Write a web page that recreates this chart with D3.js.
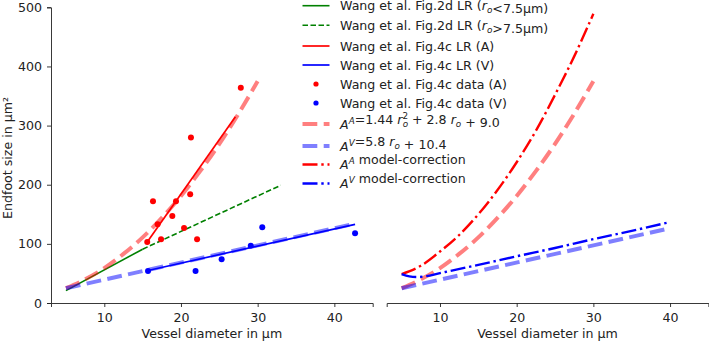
<!DOCTYPE html>
<html>
<head>
<meta charset="utf-8">
<script src="https://cdn.jsdelivr.net/npm/d3@7"></script>
<style>
  body { margin: 0; background: #fff; }
  text { font-family: "DejaVu Sans", sans-serif; }
</style>
</head>
<body>
<svg id="chart" width="709" height="342"></svg>
<script>
// values
const xTicks = [10, 20, 30, 40]
const yTicks = [0, 100, 200, 300, 400, 500]

const dataAx = [15.6, 16.35, 16.95, 17.4, 18.87, 19.35, 20.4, 21.2, 21.3, 22.1, 27.8]
const dataAy = [103, 172, 133, 108, 147, 172, 127, 184, 280, 108, 364]
const dataVx = [15.7, 21.9, 25.3, 29.1, 30.6, 42.7]
const dataVy = [54, 54, 74, 97, 128, 118]

const fig2dSmallD = [5, 15]
const fig2dSmallA = [21, 91]
const fig2dLargeD = [15, 33]
const fig2dLargeA = [91, 199]

const fig4cAD = [15.6, 27.1]
const fig4cAA = [103, 315]
const fig4cVD = [15.7, 42.7]
const fig4cVA = [55, 133]

const fitAD = [5, 7.5, 10, 12.5, 15, 17.5, 20, 22.5, 25, 27.5, 30]
const fitAA = [25, 40, 59, 83, 111, 144, 181, 223, 269, 320, 375]
const fitVLeftD = [5, 42.7]
const fitVLeftA = [24.9, 134.2]
const fitVRightD = [5, 40]
const fitVRightA = [24.9, 126.4]

const modelAD = [5, 7.5, 10, 12.5, 15, 17.5, 20, 22.5, 25, 27.5, 30]
const modelAA = [49, 63, 87, 115, 150, 191, 238, 291, 352, 417, 489]
const modelVD = [5, 6, 7, 8, 10, 15, 20, 25, 30, 35, 40]
const modelVA = [49, 45, 44, 45, 50.5, 64.5, 79, 93, 108, 122, 137]

const FONT = "DejaVu Sans"
const FS = 12.6

const svg = d3.select("#chart")
const y = d3.scaleLinear().domain([0, 500]).range([303, 7.3])
const xLeft = d3.scaleLinear().domain([3.05, 45]).range([51, 372.7])
const xRight = d3.scaleLinear().domain([3.05, 45]).range([386.7, 708.4])

const zip = (xs, ys) => xs.map((v, i) => [v, ys[i]])

const styles = {
  green: { stroke: "green", width: 1.6, dash: null, op: 1 },
  greenDash: { stroke: "green", width: 1.6, dash: "5.5,2.5", op: 1 },
  red: { stroke: "#ff0000", width: 1.7, dash: null, op: 1 },
  blue: { stroke: "#0000ff", width: 1.7, dash: null, op: 1 },
  fitA: { stroke: "#ff0000", width: 4, dash: "14.8,6.4", op: 0.5 },
  fitV: { stroke: "#0000ff", width: 4, dash: "14.8,6.4", op: 0.5 },
  modelA: { stroke: "#ff0000", width: 2.4, dash: "15,3.8,2.4,3.8", op: 1 },
  modelV: { stroke: "#0000ff", width: 2.4, dash: "15,3.8,2.4,3.8", op: 1 }
}

function drawLine(g, x, pts, st, curve) {
  let line = d3.line().x(d => x(d[0])).y(d => y(d[1])).curve(curve || d3.curveLinear)
  g.append("path")
    .attr("d", line(pts))
    .attr("fill", "none")
    .attr("stroke", st.stroke)
    .attr("stroke-width", st.width)
    .attr("stroke-opacity", st.op)
    .attr("stroke-dasharray", st.dash)
}

function styleAxis(a) {
  a.attr("font-family", FONT).attr("font-size", FS)
  a.selectAll("text").attr("fill", "#222")
  a.select(".domain").attr("stroke", "#222").attr("stroke-width", 0.9)
  a.selectAll(".tick line").attr("stroke", "#222").attr("stroke-width", 0.9)
}

function drawAxis(x, showY) {
  let ax = svg.append("g").attr("transform", "translate(0,303)")
    .call(d3.axisBottom(x).tickValues(xTicks).tickSize(4).tickPadding(6))
  styleAxis(ax)
  if (showY) {
    let ay = svg.append("g").attr("transform", "translate(" + x.range()[0] + ",0)")
      .call(d3.axisLeft(y).tickValues(yTicks).tickSize(4).tickPadding(5))
    styleAxis(ay)
  }
  svg.append("text")
    .attr("x", (x.range()[0] + x.range()[1]) / 2)
    .attr("y", 338)
    .attr("text-anchor", "middle")
    .attr("font-family", FONT)
    .attr("font-size", FS)
    .attr("fill", "#222")
    .text("Vessel diameter in µm")
}

drawAxis(xLeft, true)
drawAxis(xRight, false)

svg.append("text")
  .attr("transform", "translate(11.5,158) rotate(-90)")
  .attr("text-anchor", "middle")
  .attr("font-family", FONT)
  .attr("font-size", FS)
  .attr("fill", "#222")
  .text("Endfoot size in µm²")

// left panel
let gl = svg.append("g")
drawLine(gl, xLeft, zip(fig2dSmallD, fig2dSmallA), styles.green)
drawLine(gl, xLeft, zip(fig2dLargeD, fig2dLargeA), styles.greenDash)
drawLine(gl, xLeft, zip(fig4cAD, fig4cAA), styles.red)
drawLine(gl, xLeft, zip(fig4cVD, fig4cVA), styles.blue)
gl.selectAll("circle.a").data(zip(dataAx, dataAy)).join("circle")
  .attr("cx", d => xLeft(d[0])).attr("cy", d => y(d[1])).attr("r", 3).attr("fill", "#ff0000")
gl.selectAll("circle.v").data(zip(dataVx, dataVy)).enter().append("circle")
  .attr("cx", d => xLeft(d[0])).attr("cy", d => y(d[1])).attr("r", 3).attr("fill", "#0000ff")
drawLine(gl, xLeft, zip(fitAD, fitAA), styles.fitA, d3.curveMonotoneX)
drawLine(gl, xLeft, zip(fitVLeftD, fitVLeftA), styles.fitV)

// right panel
let gr = svg.append("g")
drawLine(gr, xRight, zip(fitAD, fitAA), styles.fitA, d3.curveMonotoneX)
drawLine(gr, xRight, zip(fitVRightD, fitVRightA), styles.fitV)
drawLine(gr, xRight, zip(modelAD, modelAA), styles.modelA, d3.curveMonotoneX)
drawLine(gr, xRight, zip(modelVD, modelVA), styles.modelV, d3.curveMonotoneX)

// legend
const legendRows = [
  { key: "green", y: 5.7 },
  { key: "greenDash", y: 25.3 },
  { key: "red", y: 46 },
  { key: "blue", y: 65 },
  { key: "dotA", y: 84 },
  { key: "dotV", y: 103 },
  { key: "fitA", y: 124 },
  { key: "fitV", y: 146 },
  { key: "modelA", y: 164.5 },
  { key: "modelV", y: 183.5 }
]
let lg = svg.append("g")
legendRows.forEach(r => {
  if (r.key === "dotA" || r.key === "dotV") {
    lg.append("circle").attr("cx", 316).attr("cy", r.y).attr("r", 2.6)
      .attr("fill", r.key === "dotA" ? "#ff0000" : "#0000ff")
  } else {
    let st = styles[r.key]
    lg.append("line").attr("x1", 302.5).attr("x2", 329.5).attr("y1", r.y).attr("y2", r.y)
      .attr("stroke", st.stroke).attr("stroke-width", st.width)
      .attr("stroke-opacity", st.op).attr("stroke-dasharray", st.dash)
  }
})

function legendText(yc) {
  return lg.append("text").attr("x", 340).attr("y", yc + 4.5)
    .attr("font-family", FONT).attr("font-size", FS).attr("fill", "#222")
}
function it(t, s) { t.append("tspan").attr("font-style", "italic").text(s) }
function sub(t, s) { t.append("tspan").attr("font-style", "italic").attr("font-size", 8.8).attr("dy", 3).text(s); t.append("tspan").attr("dy", -3).text("") }
function sup(t, s) { t.append("tspan").attr("font-style", "italic").attr("font-size", 8.8).attr("dy", -5).text(s); t.append("tspan").attr("dy", 5).text("") }

let t = legendText(5.7)
t.append("tspan").text("Wang et al. Fig.2d LR (")
it(t, "r"); sub(t, "o"); t.append("tspan").text("<7.5µm)")
t = legendText(25.3)
t.append("tspan").text("Wang et al. Fig.2d LR (")
it(t, "r"); sub(t, "o"); t.append("tspan").text(">7.5µm)")
legendText(46).text("Wang et al. Fig.4c LR (A)")
legendText(65).text("Wang et al. Fig.4c LR (V)")
legendText(84).text("Wang et al. Fig.4c data (A)")
legendText(103).text("Wang et al. Fig.4c data (V)")

t = legendText(124)
it(t, "A"); sup(t, "A"); t.append("tspan").text("=1.44 ")
it(t, "r"); t.append("tspan").attr("font-size", 8.8).attr("dy", -5).text("2")
t.append("tspan").attr("font-size", 8.8).attr("font-style", "italic").attr("dx", -5.4).attr("dy", 8).text("o")
t.append("tspan").attr("dy", -3).text(" + 2.8 ")
it(t, "r"); sub(t, "o"); t.append("tspan").text(" + 9.0")

t = legendText(146)
it(t, "A"); sup(t, "V"); t.append("tspan").text("=5.8 ")
it(t, "r"); sub(t, "o"); t.append("tspan").text(" + 10.4")

t = legendText(164.5)
it(t, "A"); sup(t, "A"); t.append("tspan").text(" model-correction")
t = legendText(183.5)
it(t, "A"); sup(t, "V"); t.append("tspan").text(" model-correction")
</script>
</body>
</html>
